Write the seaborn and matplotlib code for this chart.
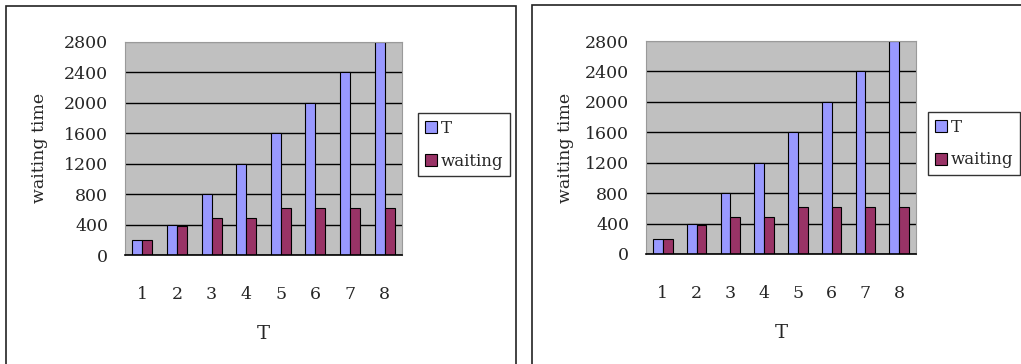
import matplotlib
matplotlib.use("Agg")
import matplotlib.pyplot as plt
from matplotlib.patches import Rectangle
import seaborn as sns
import pandas as pd

# Data
categories = [1, 2, 3, 4, 5, 6, 7, 8]
t_values = [200, 400, 800, 1200, 1600, 2000, 2400, 2800]
waiting_values = [200, 380, 480, 480, 620, 620, 620, 620]
series_names = ["T", "waiting"]
y_ticks = [0, 400, 800, 1200, 1600, 2000, 2400, 2800]

df = pd.DataFrame({
    "T": categories * 2,
    "value": t_values + waiting_values,
    "series": [series_names[0]] * len(categories) + [series_names[1]] * len(categories),
})

sns.set_style("white")
plt.rcParams["font.family"] = ["DejaVu Serif"]

W, H = 1021, 364
fig = plt.figure(figsize=(W / 100, H / 100), dpi=100)
fig.patch.set_facecolor("white")

palette = {"T": "#9999FF", "waiting": "#993366"}
FS = 12.5


def px_axes(x0, y0, x1, y1):
    """Axes placed by pixel box (top-left origin)."""
    return fig.add_axes([x0 / W, (H - y1) / H, (x1 - x0) / W, (y1 - y0) / H])


def draw_panel(frame, plot_box, legend_xy, ylabel_x):
    fx0, fy0, fx1, fy1 = frame
    fig.add_artist(Rectangle((fx0 / W, (H - fy1) / H), (fx1 - fx0) / W, (fy1 - fy0) / H,
                             transform=fig.transFigure, fill=False,
                             edgecolor="#222222", linewidth=1.2, clip_on=False))

    ax = px_axes(*plot_box)
    ax.set_facecolor("#C0C0C0")
    sns.barplot(data=df, x="T", y="value", hue="series", palette=palette,
                width=0.58, edgecolor="black", linewidth=0.8, ax=ax,
                saturation=1)
    ax.set_ylim(0, 2800)
    ax.set_xlim(-0.5, len(categories) - 0.5)
    ax.set_yticks(y_ticks)
    ax.set_yticklabels([str(v) for v in y_ticks], fontsize=FS)
    ax.set_xticks(range(len(categories)))
    ax.set_xticklabels([str(c) for c in categories], fontsize=FS)
    ax.set_xticks([i + 0.5 for i in range(len(categories))], minor=True)
    ax.tick_params(axis="x", which="major", length=0, pad=22)
    ax.tick_params(axis="x", which="minor", direction="in", length=3, width=1, color="black")
    ax.tick_params(axis="y", length=0, pad=12)

    ax.set_axisbelow(True)
    ax.yaxis.grid(True, color="black", linewidth=1.0)
    ax.get_ygridlines()[-1].set_color("#9a9a9a")
    for side in ("left", "right", "top"):
        ax.spines[side].set_color("#9a9a9a")
        ax.spines[side].set_linewidth(0.8)
    ax.spines["bottom"].set_color("black")
    ax.spines["bottom"].set_linewidth(1.2)

    ax.set_xlabel("T", fontsize=14, labelpad=16)
    ax.set_ylabel("")
    fig.text(ylabel_x / W, 1 - 148 / H, "waiting time", rotation=90,
             ha="center", va="center", fontsize=FS)

    handles, labels = ax.get_legend_handles_labels()
    ax.legend_.remove()
    leg = ax.legend(handles, labels, loc="upper left",
                    bbox_to_anchor=(legend_xy[0] / W, 1 - legend_xy[1] / H),
                    bbox_transform=fig.transFigure, fontsize=12,
                    frameon=True, fancybox=False, framealpha=1,
                    edgecolor="#333333", borderpad=0.4, labelspacing=0.95,
                    handlelength=0.75, handleheight=0.75, handletextpad=0.2,
                    borderaxespad=0)
    leg.get_frame().set_linewidth(1.0)
    return ax


draw_panel((6, 6, 516, 400), (125, 42, 402, 255), (418, 113), 40)
draw_panel((532, 5, 1060, 400), (646, 41, 916, 254), (928, 112), 565)

fig.savefig("out.png", dpi=100)
